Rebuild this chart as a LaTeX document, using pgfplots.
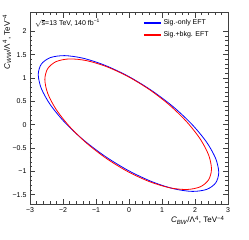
\documentclass[border=0pt]{standalone}
\usepackage{fontspec}
\setmainfont{Liberation Sans}
\usepackage{pgfplots}
\pgfplotsset{compat=1.18}
\begin{document}
\begin{tikzpicture}
\path[use as bounding box] (-30pt,-36pt) rectangle (219pt,204pt);
\begin{axis}[
  scale only axis, width=198pt, height=191.3pt,
  xmin=-3, xmax=3, ymin=-1.7, ymax=2.4,
  xtick={-3,-2,-1,0,1,2,3},
  xticklabels={−3,−2,−1,0,1,2,3},
  ytick={-1.5,-1,-0.5,0,0.5,1,1.5,2},
  yticklabels={−1.5,−1,−0.5,0,0.5,1,1.5,2},
  minor x tick num=4, minor y tick num=4,
  tick align=inside, tick pos=both,
  major tick length=5pt, minor tick length=2.5pt,
  axis line style={line width=0.6pt, black!75},
  every tick/.style={black!75, line width=0.5pt},
  ticklabel style={font=\fontsize{7}{8}\selectfont},
  /pgf/number format/assume math mode=true,
  xlabel={\textit{C}\textsubscript{\textit{BW}}/Λ\textsuperscript{4}, TeV\textsuperscript{−4}},
  ylabel={\textit{C}\textsubscript{\textit{WW}}/Λ\textsuperscript{4}, TeV\textsuperscript{−4}},
  label style={font=\fontsize{8}{9}\selectfont},
  xlabel style={at={(axis description cs:1,-0.084)}, anchor=east},
  ylabel style={at={(axis description cs:-0.116,1.01)}, anchor=east},
  legend style={draw=none, at={(0.571,0.975)}, anchor=north west,
    font=\fontsize{7}{8}\selectfont, inner sep=0pt, row sep=1.5pt},
  legend cell align=left,
]
\addlegendimage{color=blue, line width=1.2pt, no markers}
\addlegendentry{Sig.-only EFT}
\addlegendimage{color=red, line width=1.2pt, no markers}
\addlegendentry{Sig.+bkg. EFT}
\addplot[blue, line width=0.8pt, smooth cycle, forget plot] coordinates {
(2.720,-1.023) (2.627,-0.726) (2.354,-0.377) (1.919,-0.002) (1.353,0.376) (0.693,0.729)
(-0.015,1.035) (-0.723,1.271) (-1.383,1.423) (-1.949,1.480) (-2.384,1.437) (-2.657,1.298)
(-2.750,1.073) (-2.657,0.776) (-2.384,0.427) (-1.949,0.052) (-1.383,-0.326) (-0.723,-0.679)
(-0.015,-0.985) (0.693,-1.221) (1.353,-1.373) (1.919,-1.430) (2.354,-1.387) (2.627,-1.248)
};
\addplot[red, line width=0.8pt, smooth cycle, forget plot] coordinates {
(2.500,-0.949) (2.414,-0.652) (2.162,-0.311) (1.760,0.053) (1.238,0.414) (0.629,0.747)
(-0.025,1.030) (-0.679,1.243) (-1.288,1.373) (-1.810,1.409) (-2.212,1.351) (-2.464,1.200)
(-2.550,0.969) (-2.464,0.672) (-2.212,0.331) (-1.810,-0.033) (-1.288,-0.394) (-0.679,-0.727)
(-0.025,-1.010) (0.629,-1.223) (1.238,-1.353) (1.760,-1.389) (2.162,-1.331) (2.414,-1.180)
};
\node[anchor=west, font=\fontsize{7}{8}\selectfont, inner sep=0pt] at (rel axis cs:0.025,0.946) {$\sqrt{\mbox{s}}$=13 TeV, 140 fb\textsuperscript{−1}};
\end{axis}
\end{tikzpicture}
\end{document}
